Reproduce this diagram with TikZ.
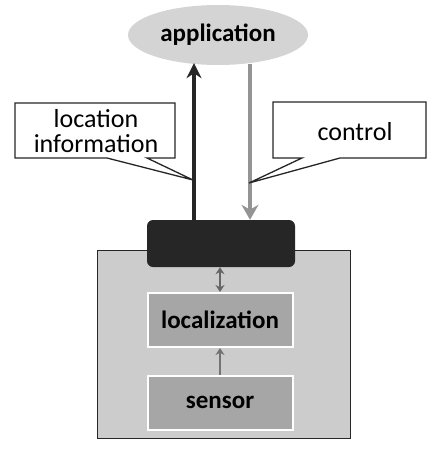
\documentclass[tikz,border=0pt]{standalone}
\usepackage{fontspec}
\setmainfont{Carlito}
\usetikzlibrary{arrows.meta,shapes.geometric,calc}
\begin{document}
\begin{tikzpicture}[x=1pt,y=-1pt,
  lbl/.style={font=\fontsize{26}{25}\selectfont},
  blbl/.style={font=\bfseries\fontsize{25}{27}\selectfont},
  callout/.style={draw=black!85,line width=1.3pt,fill=white},
  layerbox/.style={draw=white,line width=2pt,fill=black!35,minimum width=145pt,minimum height=54pt,blbl}]
\useasboundingbox (0,0) rectangle (427,450);
% application
\node[ellipse,fill=black!17,minimum width=180pt,minimum height=60pt,blbl,inner sep=0pt] (app) at (218,35) {application};
% outer box
\node[draw=black!85,line width=1pt,fill=black!20,minimum width=253pt,minimum height=188pt,inner sep=0pt] (outer) at (223.5,344) {};
% black box
\node[fill=black!85,rounded corners=6pt,minimum width=148pt,minimum height=47pt,inner sep=0pt] (bb) at (221,243.5) {};
% layers
\node[layerbox] (loc) at (220,320) {localization};
\node[layerbox] (sen) at (220,402.5) {sensor};
% arrow positions
\coordinate (upx) at (194,0);
\coordinate (dnx) at (250,0);
\coordinate (midx) at (220,0);
% main arrows
\draw[line width=3.5pt,black!85,-{Stealth[length=15pt,width=15pt]}] (bb.north -| upx) -- ($(app.south -| upx)+(0,-2)$);
\draw[line width=3.5pt,black!42,-{Stealth[length=15pt,width=17pt]}] ($(app.south -| dnx)+(0,-1)$) -- (bb.north -| dnx);
% small arrows
\draw[line width=2pt,black!60,{Stealth[length=7pt,width=9pt]}-{Stealth[length=7pt,width=9pt]}] (bb.south -| midx) -- (loc.north -| midx);
\draw[line width=2pt,black!55,-{Stealth[length=7pt,width=9pt]}] (sen.north -| midx) -- (loc.south -| midx);
% callouts
\coordinate (lt) at (193,180);
\coordinate (rt) at (249,183);
\draw[callout] (15,103) -- (175,103) -- (175,158) -- (147,158) -- (lt) -- (107,158) -- (15,158) -- cycle;
\node[lbl,align=center] (locinfo) at (96,131) {location\\information};
\draw[callout] (273,102) -- (426,102) -- (426,158) -- (340,158) -- (rt) -- (302,158) -- (273,158) -- cycle;
\node[lbl,anchor=base] (ctrl) at (355,140) {control};
\end{tikzpicture}
\end{document}
